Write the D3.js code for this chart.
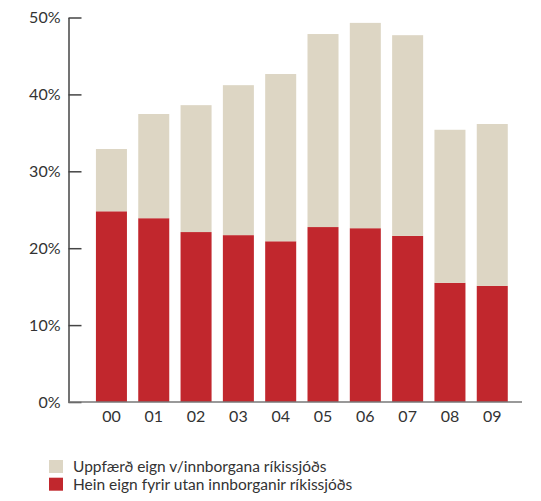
<!DOCTYPE html>
<html>
<head>
<meta charset="utf-8">
<script src="https://cdn.jsdelivr.net/npm/d3@7"></script>
<style>
  body { margin: 0; background: #fff; }
  text { font-family: Lato, sans-serif; fill: #333; }
</style>
</head>
<body>
<svg width="541" height="501"></svg>
<script>
// years (x labels)
var years = ["00", "01", "02", "03", "04", "05", "06", "07", "08", "09"];
// red part: own assets outside state payments (%)
var heinEign = [24.8, 23.9, 22.1, 21.7, 20.9, 22.75, 22.6, 21.6, 15.5, 15.1];
// beige part on top: revalued assets from state payments (%)
var uppfaerd = [8.1, 13.55, 16.5, 19.5, 21.75, 25.1, 26.7, 26.1, 19.9, 21.05];
var yTicks = [0, 10, 20, 30, 40, 50];
var legendLabels = ["Uppfærð eign v/innborgana ríkissjóðs", "Hein eign fyrir utan innborganir ríkissjóðs"];
var colors = ["#ddd6c4", "#c1272d"];

var svg = d3.select("svg");

var x = d3.scaleBand()
  .domain(years)
  .range([68, 535.7])
  .paddingInner(0.267)
  .paddingOuter(0.66);

var y = d3.scaleLinear()
  .domain([0, 50])
  .range([402, 17.5]);

// bars: red bottom, beige stacked on top
var data = years.map(function(d, i) {
  return { year: d, hein: heinEign[i], upp: uppfaerd[i] };
});

svg.selectAll("rect.hein")
  .data(data)
  .enter()
  .append("rect")
  .attr("class", "hein")
  .attr("x", function(d) { return x(d.year); })
  .attr("width", x.bandwidth())
  .attr("y", function(d) { return y(d.hein); })
  .attr("height", function(d) { return y(0) - y(d.hein); })
  .attr("fill", colors[1]);

svg.selectAll("rect.upp")
  .data(data)
  .enter()
  .append("rect")
  .attr("class", "upp")
  .attr("x", function(d) { return x(d.year); })
  .attr("width", x.bandwidth())
  .attr("y", function(d) { return y(d.hein + d.upp); })
  .attr("height", function(d) { return y(d.hein) - y(d.hein + d.upp); })
  .attr("fill", colors[0]);

// y axis, ticks pointing right
var yAxis = svg.append("g")
  .attr("transform", "translate(68.5,0)")
  .call(d3.axisLeft(y)
    .tickValues(yTicks)
    .tickFormat(function(d) { return d + "%"; })
    .tickSizeInner(-13)
    .tickSizeOuter(0)
    .tickPadding(8));
yAxis.select(".domain").attr("stroke", "#444").attr("stroke-width", 1.5);
yAxis.selectAll(".tick line").attr("stroke", "#444").attr("stroke-width", 1.5);
yAxis.selectAll("text").style("font-size", "16px").attr("fill", "#333");

// x axis
var xAxis = svg.append("g")
  .attr("transform", "translate(0,402)")
  .call(d3.axisBottom(x).tickSize(0).tickPadding(9));
xAxis.select(".domain").attr("d", "M68,0H522").attr("stroke", "#777").attr("stroke-width", 1.5);
xAxis.selectAll("text").style("font-size", "16px").attr("fill", "#333");

// legend
var legend = svg.selectAll("g.legend")
  .data(legendLabels)
  .enter()
  .append("g")
  .attr("class", "legend")
  .attr("transform", function(d, i) { return "translate(49," + (460 + i * 17.7) + ")"; });

legend.append("rect")
  .attr("width", 14)
  .attr("height", 13)
  .attr("fill", function(d, i) { return colors[i]; });

legend.append("text")
  .attr("x", 24)
  .attr("y", 12)
  .style("font-size", "15.5px")
  .text(function(d) { return d; });
</script>
</body>
</html>
